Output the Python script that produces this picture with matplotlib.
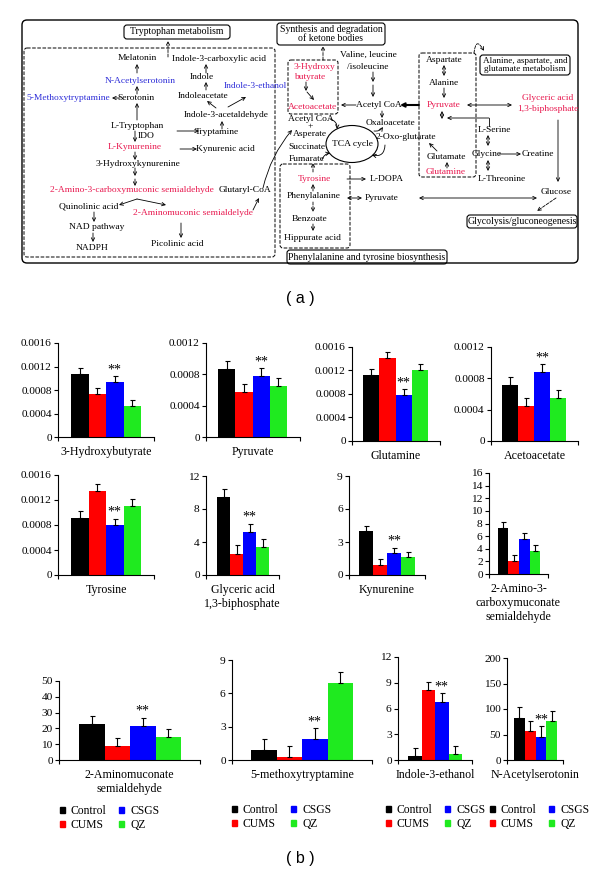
import numpy as np
import matplotlib
matplotlib.use('Agg')
import matplotlib.pyplot as plt
from matplotlib.patches import FancyBboxPatch, Ellipse, Patch

plt.rcParams['font.family'] = 'Liberation Serif'

# ---- data ----
metabolites = ['3-Hydroxybutyrate', 'Pyruvate', 'Glutamine', 'Acetoacetate',
               'Tyrosine', 'Glyceric acid\n1,3-biphosphate', 'Kynurenine',
               '2-Amino-3-\ncarboxymuconate\nsemialdehyde',
               '2-Aminomuconate\nsemialdehyde', '5-methoxytryptamine',
               'Indole-3-ethanol', 'N-Acetylserotonin']
groups = ['Control', 'CUMS', 'CSGS', 'QZ']
control = [0.00108, 0.00087, 0.00112, 0.00072, 0.00092, 9.4, 4.0, 7.3, 22.6, 0.9, 0.46, 83]
cums = [0.00073, 0.00058, 0.00141, 0.00045, 0.00135, 2.6, 0.95, 2.0, 8.9, 0.3, 8.1, 57]
csgs = [0.00093, 0.00078, 0.00078, 0.00088, 0.00080, 5.2, 1.97, 5.5, 21.5, 1.86, 6.8, 46]
qz = [0.00053, 0.00065, 0.00121, 0.00055, 0.00111, 3.4, 1.6, 3.6, 14.4, 6.9, 0.66, 76]
errors = [0.0001, 0.0001, 0.0001, 0.0001, 0.0001, 1.0, 0.5, 1.0, 5.2, 1.0, 0.95, 20]
significant = [True, True, True, True, True, True, True, False, True, True, True, True]
yticks = [
    [0, 0.0004, 0.0008, 0.0012, 0.0016], [0, 0.0004, 0.0008, 0.0012],
    [0, 0.0004, 0.0008, 0.0012, 0.0016], [0, 0.0004, 0.0008, 0.0012],
    [0, 0.0004, 0.0008, 0.0012, 0.0016], [0, 4, 8, 12], [0, 3, 6, 9],
    [0, 2, 4, 6, 8, 10, 12, 14, 16], [0, 10, 20, 30, 40, 50], [0, 3, 6, 9],
    [0, 3, 6, 9, 12], [0, 50, 100, 150, 200]]

COLORS = ['black', '#FF0000', '#0000FF', '#1FEA1F']
RED = '#E8194F'
BLUE = '#2E2ED8'
W, H = 600, 883

# pixel layout: axis x, axis end, first bar left, last bar right, top, zero
layout = [
    (58, 154, 71, 141, 343, 437), (206, 300, 218, 287, 343, 437),
    (352, 440, 363, 428, 347, 441), (491, 578, 502, 566, 347, 441),
    (58, 154, 71, 141, 475, 575), (206, 279, 217, 269, 476, 575),
    (349, 425, 359, 415, 476, 575), (489, 548, 498, 540, 473, 574),
    (59, 200, 79, 181, 681, 760), (232, 372, 251, 353, 660, 760),
    (398, 472, 408, 462, 657, 760), (507, 563, 514, 557, 658, 760)]
legend_pos = [(60, 805), (232, 804), (386, 804), (490, 804)]

fig = plt.figure(figsize=(6, 8.83), dpi=100)

# ---- pathway diagram, drawn in pixel coordinates ----
ax0 = fig.add_axes([0, 0, 1, 1])
ax0.set_xlim(0, W)
ax0.set_ylim(H, 0)
ax0.axis('off')

FS = 6.8


def txt(x, y, s, c='black', ha='center', fs=FS):
    ax0.text(x, y, s, color=c, fontsize=fs, ha=ha, va='center', linespacing=1.0)


def arw(x1, y1, x2, y2, style='->', ls='-', rad=0.0, lw=0.6):
    ax0.annotate('', xy=(x2, y2), xytext=(x1, y1),
                 arrowprops=dict(arrowstyle=style, lw=lw, ls=ls, color='black',
                                 shrinkA=0, shrinkB=0, mutation_scale=6,
                                 connectionstyle=f'arc3,rad={rad}'))


def box(x, y, w, h, ls='-', r=3, lw=0.8):
    ax0.add_patch(FancyBboxPatch((x, y), w, h, boxstyle=f'round,pad=0,rounding_size={r}',
                                 fill=False, ec='black', lw=lw, ls=ls))


box(22, 20, 556, 243, r=5, lw=1.0)
box(124, 25, 106, 14)
txt(177, 32, 'Tryptophan metabolism', fs=7)
box(277, 23, 108, 22)
txt(331, 34, 'Synthesis and degradation\nof ketone bodies', fs=7)
box(480, 55, 90, 20)
txt(525, 65, 'Alanine, aspartate, and\nglutamate metabolism', fs=6.6)
box(467, 215, 110, 13)
txt(522, 221, 'Glycolysis/gluconeogenesis', fs=7)
box(287, 250, 160, 14)
txt(367, 257, 'Phenylalanine and tyrosine biosynthesis', fs=7)

box(24, 48, 251, 209, ls='--', lw=0.7)
box(288, 60, 50, 54, ls='--', lw=0.7)
box(419, 53, 57, 124, ls='--', lw=0.7)
box(280, 164, 70, 84, ls='--', lw=0.7)
arw(168, 57, 168, 41, ls='--')
arw(323, 60, 323, 46, ls='--')
arw(474, 53, 484, 51, ls='--', rad=-1.6)
arw(556, 198, 537, 211, ls='--')

# tryptophan metabolism
txt(137, 58, 'Melatonin')
arw(137, 73, 137, 64)
txt(140, 81, 'N-Acetylserotonin', BLUE)
arw(137, 94, 137, 86)
txt(136, 98, 'Serotonin')
arw(120, 98, 112, 98)
txt(68, 98, '5-Methoxytryptamine', BLUE)
arw(137, 120, 137, 103)
txt(137, 126, 'L-Tryptophan')
arw(135, 131, 135, 142)
txt(138, 136, 'IDO', ha='left')
txt(135, 147, 'L-Kynurenine', RED)
arw(135, 152, 135, 160)
txt(138, 164, '3-Hydroxykynurenine')
arw(135, 168, 135, 176)
arw(135, 179, 135, 186)
txt(132, 190, '2-Amino-3-carboxymuconic semialdehyde', RED)
txt(245, 190, 'Glutaryl-CoA')
arw(137, 199, 119, 205)
arw(137, 199, 166, 205)
txt(89, 206, 'Quinolinic acid')
txt(193, 213, '2-Aminomuconic semialdelyde', RED)
arw(253, 210, 259, 198)
arw(94, 212, 94, 222)
txt(97, 227, 'NAD pathway')
arw(93, 233, 93, 242)
txt(92, 248, 'NADPH')
arw(181, 223, 181, 238)
txt(177, 244, 'Picolinic acid')
txt(219, 59, 'Indole-3-carboxylic acid')
arw(206, 73, 206, 64)
txt(202, 77, 'Indole')
arw(206, 90, 206, 82)
txt(255, 86, 'Indole-3-ethanol', BLUE)
txt(203, 96, 'Indoleacetate')
arw(216, 108, 207, 101)
arw(228, 107, 246, 97)
txt(226, 115, 'Indole-3-acetaldehyde')
arw(222, 129, 222, 121)
txt(217, 132, 'Tryptamine')
arw(177, 131, 199, 131)
arw(180, 149, 197, 149)
txt(225, 149, 'Kynurenic acid')

# ketone bodies / TCA
txt(294, 67, '3-Hydroxy', RED, ha='left')
txt(294, 77, 'butyrate', RED, ha='left')
arw(306, 82, 306, 91)
arw(307, 92, 314, 100)
txt(313, 107, 'Acetoacetate', RED)
txt(311, 119, 'Acetyl CoA')
txt(310, 126, '+')
txt(310, 134, 'Asperate')
txt(307, 147, 'Succinate')
txt(307, 159, 'Fumarate')
arw(263, 188, 292, 130, rad=-0.12)
arw(313, 172, 313, 163, ls='--')
arw(322, 160, 330, 153, rad=-0.3)
arw(330, 119, 337, 129, rad=-0.4)
ax0.add_patch(Ellipse((352, 144), 52, 37, fill=False, ec='black', lw=0.8))
txt(352, 144, 'TCA cycle')
arw(374, 131, 383, 127, rad=0.3)
arw(385, 145, 372, 155, rad=-0.6)
txt(368, 55, 'Valine, leucine')
txt(368, 67, '/isoleucine')
arw(373, 72, 373, 82)
arw(373, 85, 373, 97)
txt(379, 105, 'Acetyl CoA')
arw(356, 105, 341, 105)
arw(419, 105, 400, 105, lw=1.5)
arw(382, 111, 382, 118)
txt(391, 123, 'Oxaloacetate')
txt(406, 137, '2-Oxo-glutarate')

# alanine / pyruvate / glucose
txt(444, 60, 'Aspartate')
arw(444, 65, 444, 76, style='<->')
txt(444, 83, 'Alanine')
arw(444, 88, 444, 98)
txt(444, 105, 'Pyruvate', RED)
arw(467, 105, 512, 105, style='<->')
txt(548, 98, 'Glyceric acid', RED)
txt(548, 109, '1,3-biphosphate', RED)
arw(558, 120, 558, 182)
arw(442, 111, 442, 119, style='<->')
ax0.plot([489, 489], [126, 118], color='black', lw=0.6)
arw(489, 118, 447, 118)
txt(446, 157, 'Glutamate')
arw(447, 168, 447, 162)
txt(446, 172, 'Glutamine', RED)
arw(437, 151, 429, 143)
txt(494, 130, 'L-Serine')
arw(488, 135, 488, 146, style='<->')
txt(487, 154, 'Glycine')
arw(499, 154, 521, 154)
txt(538, 154, 'Creatine')
arw(488, 160, 488, 171, style='<->')
txt(502, 179, 'L-Threonine')
txt(556, 192, 'Glucose')
arw(419, 198, 537, 198, style='<->')

# phenylalanine / tyrosine
txt(314, 179, 'Tyrosine', RED)
arw(347, 179, 366, 179)
txt(387, 179, 'L-DOPA')
arw(313, 191, 313, 184)
txt(314, 196, 'Phenylalanine')
arw(347, 198, 362, 198, style='<->')
txt(382, 198, 'Pyruvate')
arw(313, 202, 313, 212, ls='--')
txt(310, 219, 'Benzoate')
arw(313, 224, 313, 231)
txt(312, 238, 'Hippurate acid')

ax0.text(300, 298, '( a )', fontsize=11.5, family='Liberation Sans', ha='center', va='center')
ax0.text(300, 858, '( b )', fontsize=11.5, family='Liberation Sans', ha='center', va='center')

# ---- bar charts ----
series = [control, cums, csgs, qz]
x = np.arange(4)
for i, name in enumerate(metabolites):
    x0, x1, bl, br, yt, yz = layout[i]
    ax = fig.add_axes([x0 / W, 1 - yz / H, (x1 - x0) / W, (yz - yt) / H])
    vals = [s[i] for s in series]
    u = (br - bl) / 4
    ax.bar(x, vals, width=1.0, color=COLORS,
           yerr=[[0] * 4, [errors[i]] * 4],
           error_kw=dict(ecolor='black', elinewidth=0.8, capsize=1.8, capthick=0.8))
    lo = -0.5 - (bl - x0) / u
    hi = 3.5 + (x1 - br) / u
    ax.set_xlim(lo, hi)
    ax.set_ylim(0, yticks[i][-1])
    ax.set_yticks(yticks[i])
    ax.set_yticklabels(['{:g}'.format(v) for v in yticks[i]], fontsize=8.2)
    ax.set_xticks([lo, hi])
    ax.set_xticklabels([])
    ax.tick_params(direction='out', length=3, width=0.8, pad=1.5)
    for sp in ['top', 'right']:
        ax.spines[sp].set_visible(False)
    for sp in ['left', 'bottom']:
        ax.spines[sp].set_linewidth(0.8)
    ax.patch.set_alpha(0)
    ax.annotate(name, xy=(0.5, 0), xycoords='axes fraction', xytext=(0, -6.5),
                textcoords='offset points', ha='center', va='top', fontsize=8.6,
                linespacing=1.2)
    if significant[i]:
        ax.annotate('**', xy=(2, csgs[i] + errors[i]), xytext=(0, 0),
                    textcoords='offset points', ha='center', va='bottom', fontsize=10)

handles = [Patch(color=c) for c in COLORS]
for (lx, ly) in legend_pos:
    fig.legend(handles, groups, loc='upper left', bbox_to_anchor=(lx / W, 1 - ly / H),
               ncol=2, frameon=False, fontsize=8.4, handlelength=0.42, handleheight=0.42,
               handletextpad=0.5, columnspacing=1.1, labelspacing=0.15, borderpad=0,
               borderaxespad=0)

fig.savefig('out.png', dpi=100)
